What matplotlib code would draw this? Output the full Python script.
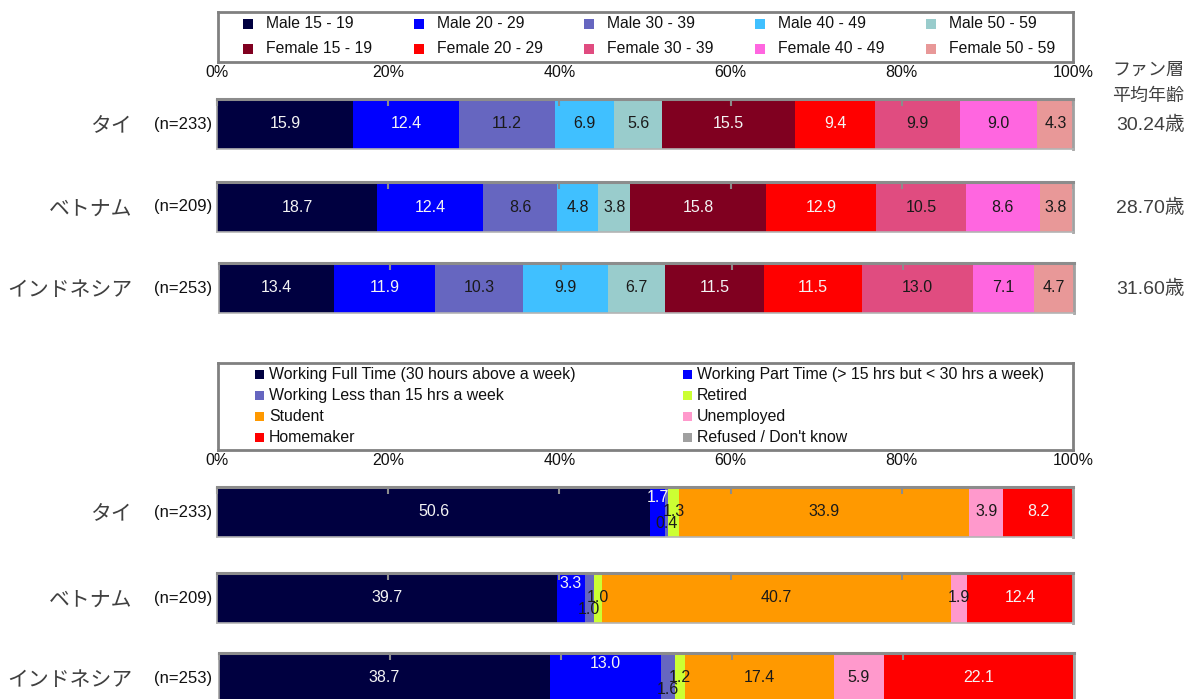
import matplotlib
matplotlib.use("Agg")
import matplotlib.pyplot as plt
from matplotlib.patches import Rectangle

# ---------------- data ----------------
countries = ['タイ', 'ベトナム', 'インドネシア']
n_labels = ['(n=233)', '(n=209)', '(n=253)']
avg_ages = ['30.24歳', '28.70歳', '31.60歳']
avg_title = ['ファン層', '平均年齢']
tick_labels = ['0%', '20%', '40%', '60%', '80%', '100%']
tick_values = [0, 20, 40, 60, 80, 100]

age_groups = ['Male 15 - 19', 'Male 20 - 29', 'Male 30 - 39', 'Male 40 - 49', 'Male 50 - 59',
              'Female 15 - 19', 'Female 20 - 29', 'Female 30 - 39', 'Female 40 - 49', 'Female 50 - 59']
thai_age = [15.9, 12.4, 11.2, 6.9, 5.6, 15.5, 9.4, 9.9, 9.0, 4.3]
vietnam_age = [18.7, 12.4, 8.6, 4.8, 3.8, 15.8, 12.9, 10.5, 8.6, 3.8]
indonesia_age = [13.4, 11.9, 10.3, 9.9, 6.7, 11.5, 11.5, 13.0, 7.1, 4.7]

occupations = ['Working Full Time (30 hours above a week)',
               'Working Part Time (> 15 hrs but < 30 hrs a week)',
               'Working Less than 15 hrs a week', 'Retired', 'Student',
               'Unemployed', 'Homemaker', "Refused / Don't know"]
thai_occ = [50.6, 1.7, 0.4, 1.3, 33.9, 3.9, 8.2, 0.0]
vietnam_occ = [39.7, 3.3, 1.0, 1.0, 40.7, 1.9, 12.4, 0.0]
indonesia_occ = [38.7, 13.0, 1.6, 1.2, 17.4, 5.9, 22.1, 0.0]

# ---------------- styles ----------------
age_colors = ['#000040', '#0000ff', '#6666c0', '#40c0ff', '#99cccc',
              '#800020', '#ff0000', '#e04c80', '#ff66e0', '#e89898']
age_text = ['w', 'w', 'k', 'k', 'k', 'w', 'w', 'k', 'k', 'k']
occ_colors = ['#000040', '#0000ff', '#6666c0', '#ccff33', '#ff9900',
              '#ff99cc', '#ff0000', '#a0a0a0']
occ_text = ['w', 'w', 'k', 'k', 'k', 'k', 'w', 'k']
occ_dy = [0, 0.28, -0.22, 0, 0, 0, 0, 0]

LAT = ['Liberation Sans', 'DejaVu Sans']
JP = ['Noto Sans CJK JP', 'DejaVu Sans']
MIX = ['Liberation Sans', 'Noto Sans CJK JP', 'DejaVu Sans']
GRAY_TXT = '#404040'
WHITE_TXT = '#f4f4f4'
BLACK_TXT = '#1a1a1a'

W, H = 1190, 699
fig = plt.figure(figsize=(W / 100, H / 100), dpi=100)


def rect(x0, y0, x1, y1):
    return [x0 / W, 1 - y1 / H, (x1 - x0) / W, (y1 - y0) / H]


def fx(x):
    return x / W


def fy(y):
    return 1 - y / H


def bar_axes(x0, y0, x1, y1, values, colors, tcolors, dys=None, ticklabels=False):
    ax = fig.add_axes(rect(x0, y0, x1, y1))
    left = 0.0
    for i, v in enumerate(values):
        ax.barh(0, v, left=left, height=1.0, color=colors[i], linewidth=0)
        if v > 0:
            dy = dys[i] if dys else 0
            ax.text(left + v / 2, dy, f'{v:.1f}', ha='center', va='center',
                    fontsize=11.5, family=LAT,
                    color=WHITE_TXT if tcolors[i] == 'w' else BLACK_TXT)
        left += v
    ax.set_xlim(0, 100)
    ax.set_ylim(-0.5, 0.5)
    ax.set_yticks([])
    ax.set_xticks(tick_values)
    ax.tick_params(axis='x', which='both', bottom=False, labelbottom=False,
                   top=True, labeltop=ticklabels, direction='in', length=5,
                   width=1.5, color='#8c8c8c', pad=14, labelsize=11.5,
                   labelcolor='#111111')
    if ticklabels:
        ax.set_xticklabels(tick_labels, family=LAT)
    for s in ['left', 'right']:
        ax.spines[s].set_color('#a0a0a0')
        ax.spines[s].set_linewidth(1.2)
    ax.spines['top'].set_color('#8c8c8c')
    ax.spines['top'].set_linewidth(2.2)
    ax.spines['bottom'].set_color('#b4b4b4')
    ax.spines['bottom'].set_linewidth(1.2)
    ax.spines['right'].set_linewidth(2)
    return ax


def legend_box(x0, y0, x1, y1):
    ax = fig.add_axes(rect(x0, y0, x1, y1))
    ax.set_xlim(x0, x1)
    ax.set_ylim(y1, y0)
    ax.set_xticks([])
    ax.set_yticks([])
    for s in ax.spines.values():
        s.set_color('#808080')
        s.set_linewidth(2)
    return ax


# ---------------- top block: age / gender ----------------
leg1 = legend_box(218, 12, 1073, 62)
for i, (lab, col) in enumerate(zip(age_groups, age_colors)):
    c, r = i % 5, i // 5
    mx = 243 + 170.7 * c
    my = 24 + 24.5 * r
    leg1.add_patch(Rectangle((mx, my - 5), 10, 10, color=col, lw=0))
    leg1.text(mx + 23, my, lab, ha='left', va='center', fontsize=11.3,
              family=LAT, color='#111111')

age_rows = [thai_age, vietnam_age, indonesia_age]
age_y = [(99, 149), (182, 232), (263, 313)]
age_x = [(217, 1073), (217, 1073), (219, 1074)]
for k in range(3):
    y0, y1 = age_y[k]
    x0, x1 = age_x[k]
    bar_axes(x0, y0, x1, y1, age_rows[k], age_colors, age_text,
             ticklabels=(k == 0))
    yc = (y0 + y1) / 2
    fig.text(fx(132), fy(yc + 2), countries[k], ha='right', va='center',
             fontsize=15, family=JP, color=GRAY_TXT)
    fig.text(fx(212), fy(yc), n_labels[k], ha='right', va='center',
             fontsize=12, family=LAT, color='#111111')
    fig.text(fx(1150), fy(yc + 1), avg_ages[k], ha='center', va='center',
             fontsize=14, family=MIX, color=GRAY_TXT)

fig.text(fx(1148), fy(70), avg_title[0], ha='center', va='center',
         fontsize=13, family=JP, color=GRAY_TXT)
fig.text(fx(1148), fy(96), avg_title[1], ha='center', va='center',
         fontsize=13, family=JP, color=GRAY_TXT)

# ---------------- bottom block: occupation ----------------
leg2 = legend_box(218, 363, 1073, 450)
for i, (lab, col) in enumerate(zip(occupations, occ_colors)):
    c, r = i % 2, i // 2
    mx = [255, 683][c]
    my = 374 + 21.3 * r
    leg2.add_patch(Rectangle((mx, my - 4.5), 9, 9, color=col, lw=0))
    leg2.text(mx + 14, my, lab, ha='left', va='center', fontsize=11.4,
              family=LAT, color='#111111')

occ_rows = [thai_occ, vietnam_occ, indonesia_occ]
occ_y = [(487, 537), (573, 623), (653, 703)]
occ_x = [(217, 1073), (217, 1073), (219, 1074)]
for k in range(3):
    y0, y1 = occ_y[k]
    x0, x1 = occ_x[k]
    bar_axes(x0, y0, x1, y1, occ_rows[k], occ_colors, occ_text, dys=occ_dy,
             ticklabels=(k == 0))
    yc = (y0 + y1) / 2
    yl = min(yc, 680)
    fig.text(fx(132), fy(yl + 2), countries[k], ha='right', va='center',
             fontsize=15, family=JP, color=GRAY_TXT)
    fig.text(fx(212), fy(yl), n_labels[k], ha='right', va='center',
             fontsize=12, family=LAT, color='#111111')

fig.savefig('out.png', dpi=100, facecolor='white')
